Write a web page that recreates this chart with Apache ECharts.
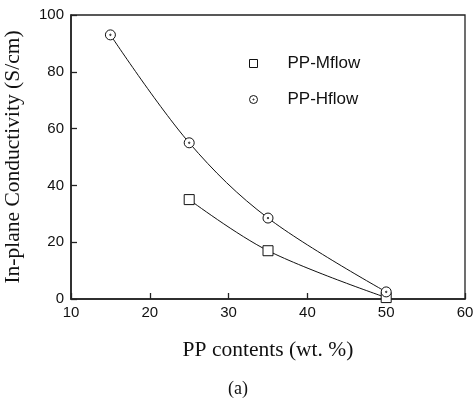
<!DOCTYPE html>
<html>
<head>
<meta charset="utf-8">
<script src="https://cdn.jsdelivr.net/npm/echarts@6/dist/echarts.min.js"></script>
<style>
  html, body { margin: 0; padding: 0; background: #fff; }
  #chart { width: 474px; height: 401px; }
</style>
</head>
<body>
<div id="chart"></div>
<script>
const mflowX = [25, 35, 50]
const mflowY = [35, 17, 0.5]
const hflowX = [15, 25, 35, 50]
const hflowY = [93, 55, 28.5, 2.5]
const xTicks = [10, 20, 30, 40, 50, 60]
const yTicks = [0, 20, 40, 60, 80, 100]

// open circle with a centre dot
const dotCircle = 'path://M0,-10A10,10,0,1,1,0,10A10,10,0,1,1,0,-10Z M0,-1.4A1.4,1.4,0,1,1,0,1.4A1.4,1.4,0,1,1,0,-1.4Z'

const chart = echarts.init(document.getElementById('chart'))

chart.setOption({
  backgroundColor: '#fff',
  animation: false,
  grid: {
    left: 71,
    right: 9,
    top: 15,
    bottom: 102,
    outerBoundsMode: 'none',
    containLabel: false,
    show: true,
    borderColor: '#222',
    borderWidth: 1.3,
  },
  legend: {
    orient: 'vertical',
    left: 249,
    top: 55,
    padding: 0,
    itemWidth: 8,
    itemHeight: 8,
    itemGap: 19,
    itemStyle: { borderWidth: 1 },
    textStyle: {
      fontFamily: 'Liberation Sans, Arial',
      fontSize: 17,
      color: '#111',
      padding: [0, 0, 0, 25],
    },
    data: [
      { name: 'PP-Mflow', icon: 'rect' },
      { name: 'PP-Hflow', icon: dotCircle },
    ],
  },
  xAxis: {
    type: 'value',
    min: 10,
    max: 60,
    interval: 10,
    name: 'PP contents (wt. %)',
    nameLocation: 'middle',
    nameGap: 40,
    nameTextStyle: {
      fontFamily: 'Liberation Serif, Times New Roman',
      fontSize: 21.5,
      color: '#111',
    },
    axisLine: { lineStyle: { color: '#222', width: 1.6 } },
    axisTick: { inside: true, length: 6, lineStyle: { color: '#222', width: 1.3 } },
    axisLabel: {
      margin: 6,
      fontFamily: 'Liberation Sans, Arial',
      fontSize: 15,
      color: '#111',
      formatter: (v) => (xTicks.includes(v) ? String(v) : ''),
    },
    splitLine: { show: false },
  },
  yAxis: {
    type: 'value',
    min: 0,
    max: 100,
    interval: 20,
    name: 'In-plane Conductivity (S/cm)',
    nameLocation: 'middle',
    nameGap: 47,
    nameTextStyle: {
      fontFamily: 'Liberation Serif, Times New Roman',
      fontSize: 21.5,
      color: '#111',
    },
    axisLine: { lineStyle: { color: '#222', width: 1.6 } },
    axisTick: { inside: true, length: 6, lineStyle: { color: '#222', width: 1.3 } },
    axisLabel: {
      margin: 7,
      fontFamily: 'Liberation Sans, Arial',
      fontSize: 15,
      color: '#111',
      formatter: (v) => (yTicks.includes(v) ? String(v) : ''),
    },
    splitLine: { show: false },
  },
  graphic: [
    {
      type: 'text',
      left: 228,
      top: 380,
      style: {
        text: '(a)',
        fontFamily: 'Liberation Serif, Times New Roman',
        fontSize: 18,
        fill: '#111',
      },
    },
  ],
  series: [
    {
      name: 'PP-Mflow',
      type: 'line',
      smooth: 0.35,
      data: mflowX.map((x, i) => [x, mflowY[i]]),
      symbol: 'rect',
      symbolSize: 10,
      lineStyle: { color: '#111', width: 1 },
      itemStyle: { color: '#fff', borderColor: '#111', borderWidth: 1 },
      z: 3,
    },
    {
      name: 'PP-Hflow',
      type: 'line',
      smooth: 0.35,
      data: hflowX.map((x, i) => [x, hflowY[i]]),
      symbol: dotCircle,
      symbolSize: 10,
      lineStyle: { color: '#111', width: 1 },
      itemStyle: { color: '#fff', borderColor: '#111', borderWidth: 1 },
      z: 4,
    },
  ],
})
</script>
</body>
</html>
